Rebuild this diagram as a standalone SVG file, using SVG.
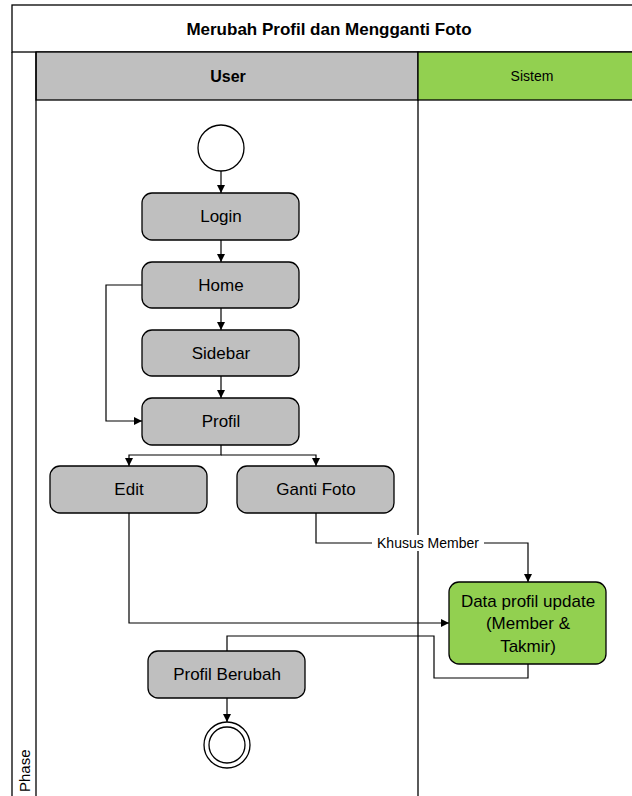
<svg xmlns="http://www.w3.org/2000/svg" width="632" height="796" viewBox="0 0 632 796">
<style>
.frame{fill:none;stroke:#000;stroke-width:1.3}
.node{fill:#bfbfbf;stroke:#000;stroke-width:1.3}
.green{fill:#92d050;stroke:#000;stroke-width:1.3}
.lbl{font-family:"Liberation Sans",Arial,sans-serif;font-size:17px;fill:#000;text-anchor:middle;dominant-baseline:central}
.conn path{fill:none;stroke:#000;stroke-width:1.2}
</style>
<defs>
<marker id="arr" viewBox="0 0 10 10" refX="10" refY="5" markerWidth="8" markerHeight="8" markerUnits="userSpaceOnUse" orient="auto">
<path d="M0,0 L10,5 L0,10 z" fill="#000"/>
</marker>
</defs>
<rect width="632" height="796" fill="#fff"/>
<g id="pool">
<rect x="12" y="5" width="630" height="47" fill="#fff" stroke="#000" stroke-width="1.3"/>
<text x="329" y="29" class="lbl" style="font-weight:bold">Merubah Profil dan Mengganti Foto</text>
<rect x="36" y="52" width="382" height="48" fill="#bfbfbf" stroke="#000" stroke-width="1.3"/>
<rect x="418" y="52" width="220" height="48" fill="#92d050" stroke="#000" stroke-width="1.3"/>
<text x="228" y="76" class="lbl" style="font-weight:bold;font-size:16px">User</text>
<text x="532" y="76" class="lbl" style="font-size:14px">Sistem</text>
<line x1="12" y1="52" x2="12" y2="800" stroke="#000" stroke-width="1.3"/>
<line x1="36" y1="52" x2="36" y2="800" stroke="#000" stroke-width="1.3"/>
<line x1="418" y1="100" x2="418" y2="800" stroke="#000" stroke-width="1.3"/>
<text x="0" y="0" class="lbl" style="font-size:15px;text-anchor:start" transform="translate(24,792) rotate(-90)">Phase</text>
</g>
<g class="conn" id="connectors">
<path d="M221,171 V193" marker-end="url(#arr)"/>
<path d="M221,240 V262" marker-end="url(#arr)"/>
<path d="M221,308 V330" marker-end="url(#arr)"/>
<path d="M221,376 V398" marker-end="url(#arr)"/>
<path d="M142,285 H106 V421 H142" marker-end="url(#arr)"/>
<path d="M221,445 V455 H129 V466" marker-end="url(#arr)"/>
<path d="M221,455 H316 V466" marker-end="url(#arr)"/>
<path d="M316,513 V543 H528 V582" marker-end="url(#arr)"/>
<path d="M129,513 V623 H449" marker-end="url(#arr)"/>
<path d="M528,664 V678 H434 V636 H227 V651"/>
<path d="M227,698 V722" marker-end="url(#arr)"/>
<rect x="372" y="535" width="112" height="16" fill="#fff"/>
<text x="428" y="543" class="lbl" style="font-size:14px">Khusus Member</text>
</g>
<g id="start"><circle cx="221" cy="148" r="23" fill="#fff" stroke="#000" stroke-width="1.3"/></g>
<g id="login"><rect x="142" y="193" width="157" height="47" rx="10" class="node"/><text x="221" y="216.5" class="lbl">Login</text></g>
<g id="home"><rect x="142" y="262" width="157" height="46" rx="10" class="node"/><text x="221" y="285" class="lbl">Home</text></g>
<g id="sidebar"><rect x="142" y="330" width="157" height="46" rx="10" class="node"/><text x="221" y="353" class="lbl">Sidebar</text></g>
<g id="profil"><rect x="142" y="398" width="157" height="47" rx="10" class="node"/><text x="221" y="421.5" class="lbl">Profil</text></g>
<g id="edit"><rect x="50" y="466" width="157" height="47" rx="10" class="node"/><text x="129" y="489.5" class="lbl">Edit</text></g>
<g id="gantifoto"><rect x="237" y="466" width="157" height="47" rx="10" class="node"/><text x="316" y="489.5" class="lbl">Ganti Foto</text></g>
<g id="dataprofil"><rect x="449" y="582" width="157" height="82" rx="10" class="green"/>
<text x="528" y="601" class="lbl">Data profil update</text>
<text x="528" y="623" class="lbl">(Member &amp;</text>
<text x="528" y="646" class="lbl">Takmir)</text></g>
<g id="profilberubah"><rect x="148" y="651" width="157" height="47" rx="10" class="node"/><text x="227" y="674.5" class="lbl">Profil Berubah</text></g>
<g id="end"><circle cx="227" cy="745" r="23" fill="#fff" stroke="#000" stroke-width="1.3"/><circle cx="227" cy="745" r="18" fill="#fff" stroke="#000" stroke-width="1.3"/></g>
</svg>
